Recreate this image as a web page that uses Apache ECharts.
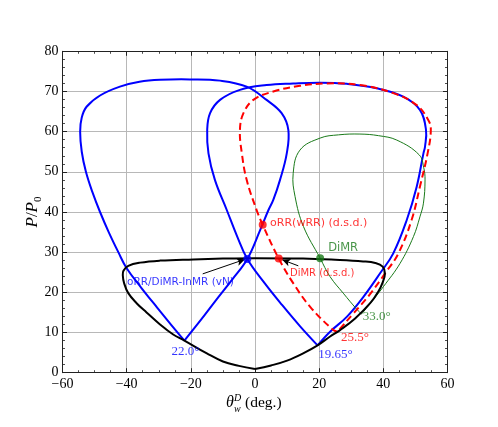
<!DOCTYPE html>
<html>
<head>
<meta charset="utf-8">
<script src="https://cdn.jsdelivr.net/npm/echarts@6/dist/echarts.min.js"></script>
<style>
html, body { margin: 0; padding: 0; background: #fff; }
#chart { width: 498px; height: 427px; }
</style>
</head>
<body>
<div id="chart"></div>
<script>
// axis ranges / ticks
const xTicks = [-60, -40, -20, 0, 20, 40, 60];
const yTicks = [0, 10, 20, 30, 40, 50, 60, 70, 80];

// incident polar (black), traced from (0,1) round and back
const blackPolar = [
  [0, 0.9], [5, 1.8], [10, 3], [15, 4.8], [19.5, 6.8], [23.4, 9], [26.5, 10.6],
  [31.2, 13.5], [35.9, 17.3], [38.5, 20.3], [39.8, 22.5], [40.5, 24.7], [39.8, 26.4],
  [37.5, 27.3], [33.7, 27.7], [25, 28.1], [15, 28.4], [0, 28.5], [-10, 28.4],
  [-19.2, 28.2], [-29.6, 27.9], [-35.8, 27.4], [-39.5, 26.6], [-41, 25.4], [-41.2, 24.2],
  [-40.8, 22.3], [-39.5, 19.8], [-36.9, 17.3], [-33.8, 15], [-29.6, 12], [-25.5, 9.5],
  [-22, 8], [-15, 4.8], [-10, 2.8], [-5, 1.7], [0, 0.9]
];

// reflected polar from 22.0 deg (blue)
const bluePolarL = [
  [-22, 8], [-26, 11.8], [-30.5, 16.2], [-35.5, 21.2], [-40, 26], [-42.6, 30],
  [-45.6, 35], [-48.3, 40], [-50.7, 45], [-52.7, 50], [-54, 55], [-54.5, 60],
  [-54, 63.5], [-52.5, 66.2], [-48.3, 69], [-42.1, 71.2], [-36, 72.4], [-29.6, 72.9],
  [-20.3, 73], [-10.9, 72.7], [-2.6, 71.2], [3.6, 67.9], [8.3, 64.6], [10.4, 60.4],
  [9.9, 54.6], [7.8, 48], [5.7, 43], [4.2, 40.5], [1.6, 35.5], [-2.4, 28.3],
  [-7, 23.3], [-12.2, 18], [-17, 13], [-22, 8]
];

// reflected polar from 19.65 deg (blue)
const bluePolarR = [
  [19.5, 6.8], [14, 11.6], [8.5, 16.8], [3, 22.3], [-2.4, 28.3], [-5.6, 34],
  [-8.8, 40.5], [-12.5, 48], [-14.5, 54.6], [-14.9, 60.4], [-14, 64.6], [-10.9, 67.9],
  [-4.7, 70.4], [3.6, 71.6], [11.9, 72], [20.3, 72.2], [28.6, 71.9], [37.9, 70.8],
  [46.2, 68.7], [51.4, 65.4], [53.3, 60.4], [53, 56.3], [52.5, 54.6], [50.4, 46.3],
  [47.3, 38], [43.1, 29.7], [39.2, 25], [33.8, 18.9], [28.6, 13.9], [23.4, 10.2],
  [19.5, 6.8]
];

// reflected polar from 25.5 deg (red dashed, d.s.d.)
const redPolar = [
  [25.8, 10.2], [24.4, 10.6], [17.2, 16.4], [11.9, 22.3], [7.4, 28.4], [2.4, 36.8],
  [0.5, 40.5], [-2.6, 48], [-4.1, 54.6], [-4.7, 60.4], [-3.6, 64.6], [-0.5, 67.9],
  [5.7, 70], [14, 71.4], [22.4, 72], [32.7, 71.6], [43.1, 69.6], [50.4, 66.6],
  [54, 62.9], [54.8, 60.4], [53.8, 54.6], [51.4, 46.3], [48.8, 38], [44.7, 29.7],
  [40.8, 25], [35.5, 19.2], [30.5, 14.6], [26.8, 11.2], [25.8, 10.2]
];

// reflected polar from 33.0 deg (green)
const greenPolar = [
  [33.2, 14.6], [31.7, 15.8], [27.5, 19.8], [23.4, 23.9], [20.3, 28.5], [15.1, 36.4],
  [12.5, 43.8], [11.9, 49.6], [14, 55.4], [20.3, 58.4], [26, 59.2], [32.7, 59.4],
  [38.5, 59], [44.2, 57.9], [51.2, 54.2], [52.6, 51], [53, 48], [52.5, 42.2],
  [51.4, 38.8], [49.4, 33.9], [45.2, 27.2], [40, 21.4], [35.3, 16.6], [33.2, 14.6]
];

// solution points
const vnPoint = [[-2.4, 28.3]];
const dsdPoints = [[7.4, 28.4], [2.4, 36.8]];
const dimrPoint = [[20.3, 28.5]];

// annotations
const annText = ['oRR(wRR) (d.s.d.)', 'DiMR', 'DiMR (d.s.d.)', 'oRR/DiMR-InMR (vN)',
  '22.0°', '19.65°', '25.5°', '33.0°'];
const annPos = [[4.7, 37.3], [22.8, 31], [10.9, 24.7], [-39.9, 22.6],
  [-26, 5.2], [19.7, 4.6], [26.8, 8.8], [33.6, 13.9]];
const arrowFrom = [[-16.3, 24.6], [13.5, 26.6]];
const arrowTo = [[-3.2, 28.2], [8.5, 28.1]];

const BLUE = '#0000ff', RED = '#ff0000', GREEN = '#1a7a1a';
const SERIF = 'Liberation Serif';
const annColor = [RED, GREEN, RED, BLUE, BLUE, BLUE, RED, GREEN];
const annFont = ['DejaVu Sans', 'DejaVu Sans', 'DejaVu Sans', 'DejaVu Sans', SERIF, SERIF, SERIF, SERIF];
const annSize = [11, 11.5, 10, 10.5, 13, 13, 13, 13];

const chart = echarts.init(document.getElementById('chart'), null, { renderer: 'canvas' });

function minus(v) { return String(v).replace('-', '\u2212'); }

function axisBase(pos, ticks, minorSplit, isX, main) {
  return {
    type: 'value',
    position: pos,
    min: ticks[0],
    max: ticks[ticks.length - 1],
    interval: ticks[1] - ticks[0],
    axisLine: { show: true, onZero: false, lineStyle: { color: '#222', width: 1 } },
    axisTick: { show: true, inside: true, length: 4.5, lineStyle: { color: '#222', width: 1 } },
    minorTick: { show: true, splitNumber: minorSplit, length: 2.5, lineStyle: { color: '#222', width: 0.8 } },
    axisLabel: {
      show: main, margin: isX ? 5 : 4, formatter: minus,
      fontFamily: SERIF, fontSize: 14, color: '#000'
    },
    splitLine: { show: main, lineStyle: { color: '#b8b8b8', width: 1 } },
    minorSplitLine: { show: false }
  };
}

// each polar is a closed-ish loop, so draw it as one smoothed polyline
// (the line series smoothing clamps to the bounding box and flattens the turns)
function polar(data, color, width, dash, z) {
  return {
    type: 'custom',
    coordinateSystem: 'cartesian2d',
    data: data,
    silent: true,
    z: z || 2,
    renderItem: function (params, api) {
      if (params.dataIndex !== 0) return null;
      const pts = data.map(p => api.coord(p));
      return {
        type: 'polyline',
        shape: { points: pts, smooth: 0.4 },
        style: { fill: null, stroke: color, lineWidth: width, lineDash: dash || null }
      };
    }
  };
}

const option = {
  animation: false,
  backgroundColor: '#fff',
  grid: { left: 62.5, right: 50.5, top: 51.3, bottom: 54.3, containLabel: false },
  xAxis: [axisBase('bottom', xTicks, 4, true, true), axisBase('top', xTicks, 4, true, false)],
  yAxis: [axisBase('left', yTicks, 5, false, true), axisBase('right', yTicks, 5, false, false)],
  series: [
    polar(bluePolarL, BLUE, 2),
    polar(bluePolarR, BLUE, 2),
    polar(greenPolar, GREEN, 1),
    polar(redPolar, RED, 2, [7, 4]),
    polar(blackPolar, '#000', 2),
    {
      type: 'scatter', data: vnPoint, symbolSize: 8, itemStyle: { color: BLUE }, z: 5, silent: true,
      markLine: {
        silent: true, animation: false,
        symbol: ['none', 'arrow'], symbolSize: [6, 8],
        label: { show: false },
        lineStyle: { color: '#000', width: 1, type: 'solid' },
        data: arrowFrom.map((p, i) => [{ coord: p }, { coord: arrowTo[i] }])
      }
    },
    { type: 'scatter', data: dsdPoints, symbolSize: 8, itemStyle: { color: RED }, z: 5, silent: true },
    { type: 'scatter', data: dimrPoint, symbolSize: 8, itemStyle: { color: GREEN }, z: 5, silent: true },
    {
      type: 'scatter', symbolSize: 0, silent: true, z: 6,
      data: annPos.map((p, i) => ({
        value: p,
        label: {
          show: true, position: 'right', distance: 0, formatter: annText[i],
          color: annColor[i], fontFamily: annFont[i], fontSize: annSize[i]
        }
      }))
    }
  ],
  graphic: [
    {
      type: 'text', x: 33, y: 212, rotation: Math.PI / 2,
      style: {
        text: '{a|P}{b|/}{a|P}{c|0}', align: 'center', verticalAlign: 'middle', fill: '#000',
        rich: {
          a: { fontFamily: SERIF, fontStyle: 'italic', fontSize: 17, lineHeight: 22 },
          b: { fontFamily: SERIF, fontSize: 17, lineHeight: 22 },
          c: { fontFamily: SERIF, fontSize: 11, lineHeight: 22, verticalAlign: 'bottom' }
        }
      }
    },
    { type: 'text', x: 226, y: 403, style: { text: 'θ', fontFamily: SERIF, fontStyle: 'italic', fontSize: 16, fill: '#000', verticalAlign: 'middle' } },
    { type: 'text', x: 234, y: 398, style: { text: 'D', fontFamily: SERIF, fontStyle: 'italic', fontSize: 10, fill: '#000', verticalAlign: 'middle' } },
    { type: 'text', x: 234, y: 409, style: { text: 'w', fontFamily: SERIF, fontStyle: 'italic', fontSize: 10, fill: '#000', verticalAlign: 'middle' } },
    { type: 'text', x: 245, y: 403, style: { text: '(deg.)', fontFamily: SERIF, fontSize: 15.5, fill: '#000', verticalAlign: 'middle' } }
  ]
};

chart.setOption(option);
</script>
</body>
</html>
